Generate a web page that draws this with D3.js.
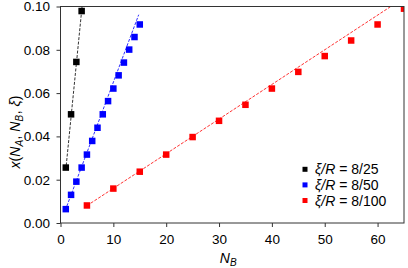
<!DOCTYPE html>
<html>
<head>
<meta charset="utf-8">
<script src="https://cdn.jsdelivr.net/npm/d3@7"></script>
<style>
  body { margin: 0; background: #fff; }
  text { font-family: "Liberation Sans", Arial, sans-serif; }
</style>
</head>
<body>
<div id="chart"></div>
<script>
// data
const nbBlack = [1, 2, 3, 4];
const xBlack = [0.0256, 0.0502, 0.0744, 0.0979];
const nbBlue = [1, 2, 3, 4, 5, 6, 7, 8, 9, 10, 11, 12, 13, 14, 15];
const xBlue = [0.0064, 0.0130, 0.0191, 0.0256, 0.0316, 0.0379, 0.0440, 0.0502,
  0.0563, 0.0621, 0.0682, 0.0741, 0.0801, 0.0859, 0.0917];
const nbRed = [5, 10, 15, 20, 25, 30, 35, 40, 45, 50, 55, 60, 65];
const xRed = [0.0081, 0.0159, 0.0237, 0.0316, 0.0397, 0.0472, 0.0546, 0.0621,
  0.0698, 0.0771, 0.0843, 0.0917, 0.0990];
// linear fit lines: [N start, N end] and slope
const fitBlack = { n: [1, 4.08], slope: 0.0245 };
const fitBlue = { n: [0.9, 14.8], slope: 0.0065 };
const fitRed = { n: [5, 62.5], slope: 0.0016 };
const legendLabels = ["8/25", "8/50", "8/100"];
const xTicks = [0, 10, 20, 30, 40, 50, 60];
const yTicks = [0, 0.02, 0.04, 0.06, 0.08, 0.10];

const width = 408, height = 268;
const margin = { top: 6.5, right: 4, bottom: 45, left: 60.5 };

const svg = d3.select("#chart").append("svg")
  .attr("width", width)
  .attr("height", height);

const x = d3.scaleLinear().domain([0, 65]).range([margin.left, width - margin.right]);
const y = d3.scaleLinear().domain([0, 0.1]).range([height - margin.bottom, margin.top]);

svg.append("defs").append("clipPath")
  .attr("id", "plot-clip")
  .append("rect")
  .attr("x", margin.left).attr("y", margin.top)
  .attr("width", width - margin.right - margin.left)
  .attr("height", height - margin.bottom - margin.top);

const plot = svg.append("g").attr("clip-path", "url(#plot-clip)");

const series = [
  { nb: nbBlack, vals: xBlack, fit: fitBlack, color: "#000000" },
  { nb: nbBlue, vals: xBlue, fit: fitBlue, color: "#0000ff" },
  { nb: nbRed, vals: xRed, fit: fitRed, color: "#ff0000" }
];

const size = 6.5;
series.forEach(s => {
  plot.append("line")
    .attr("x1", x(s.fit.n[0])).attr("y1", y(s.fit.n[0] * s.fit.slope))
    .attr("x2", x(s.fit.n[1])).attr("y2", y(s.fit.n[1] * s.fit.slope))
    .attr("stroke", s.color)
    .attr("stroke-width", 1)
    .attr("stroke-dasharray", "3,1.5")
    .attr("opacity", 0.8);

  plot.selectAll(null)
    .data(s.nb.map((n, i) => [n, s.vals[i]]))
    .enter().append("rect")
    .attr("x", d => x(d[0]) - size / 2)
    .attr("y", d => y(d[1]) - size / 2)
    .attr("width", size)
    .attr("height", size)
    .attr("fill", s.color);
});

// frame
svg.append("rect")
  .attr("x", margin.left).attr("y", margin.top)
  .attr("width", width - margin.right - margin.left)
  .attr("height", height - margin.bottom - margin.top)
  .attr("fill", "none")
  .attr("stroke", "#333")
  .attr("stroke-width", 1);

const xAxis = svg.append("g")
  .attr("transform", `translate(0,${height - margin.bottom})`)
  .call(d3.axisBottom(x).tickValues(xTicks).tickSize(4).tickPadding(7).tickFormat(d3.format("d")));
const yAxis = svg.append("g")
  .attr("transform", `translate(${margin.left},0)`)
  .call(d3.axisLeft(y).tickValues(yTicks).tickSize(4).tickPadding(6.5).tickFormat(d3.format(".2f")));

[xAxis, yAxis].forEach(g => {
  g.select(".domain").remove();
  g.selectAll(".tick line").attr("stroke", "#333");
  g.selectAll(".tick text")
    .attr("fill", "#000")
    .style("font-family", "Liberation Sans, Arial, sans-serif")
    .style("font-size", "13.5px");
});

// axis labels
const xLabel = svg.append("text")
  .attr("x", (margin.left + width - margin.right) / 2 - 4)
  .attr("y", 263)
  .attr("text-anchor", "middle")
  .style("font-size", "14px");
xLabel.append("tspan").style("font-style", "italic").text("N");
xLabel.append("tspan").style("font-style", "italic").style("font-size", "10px").attr("dy", 3).text("B");

const yLabel = svg.append("text")
  .attr("transform", `translate(19.5,132) rotate(-90)`)
  .attr("text-anchor", "middle")
  .style("font-size", "14px");
yLabel.append("tspan").style("font-style", "italic").text("x");
yLabel.append("tspan").text("(");
yLabel.append("tspan").style("font-style", "italic").text("N");
yLabel.append("tspan").style("font-style", "italic").style("font-size", "10px").attr("dy", 3).text("A");
yLabel.append("tspan").attr("dy", -3).attr("dx", 0.5).text(",\u00a0");
yLabel.append("tspan").style("font-style", "italic").text("N");
yLabel.append("tspan").style("font-style", "italic").style("font-size", "10px").attr("dy", 3).text("B");
yLabel.append("tspan").attr("dy", -3).attr("dx", 0.5).text(",\u00a0");
yLabel.append("tspan").style("font-style", "italic").text("ξ");
yLabel.append("tspan").text(")");

// legend
const legend = svg.append("g").attr("transform", "translate(305,169.3)");
series.forEach((s, i) => {
  const row = legend.append("g").attr("transform", `translate(0,${i * 15.6})`);
  row.append("rect")
    .attr("x", -2.5).attr("y", -2.5)
    .attr("width", 5).attr("height", 5)
    .attr("fill", s.color);
  const t = row.append("text")
    .attr("x", 10).attr("y", 5)
    .style("font-size", "14px");
  t.append("tspan").style("font-style", "italic").text("ξ/R");
  t.append("tspan").text(" = " + legendLabels[i]);
});
</script>
</body>
</html>
